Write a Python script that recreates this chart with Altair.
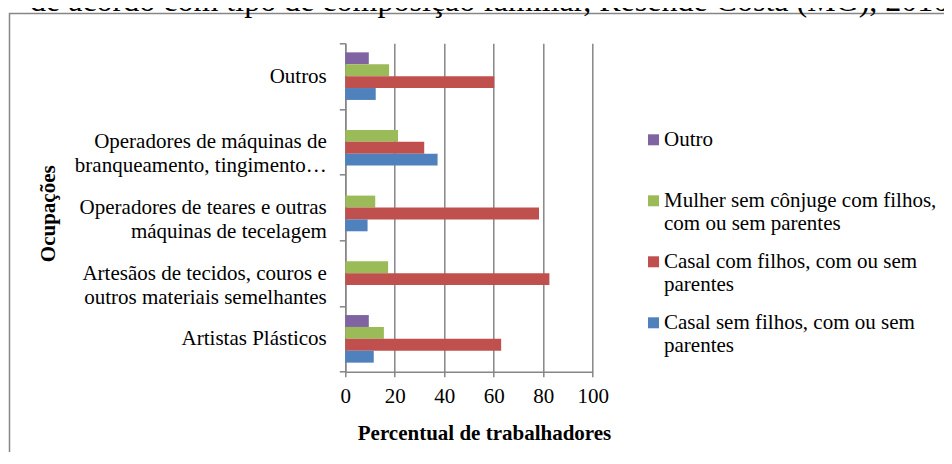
import json
import altair as alt
import pandas as pd

# ---- data ----
categories = [
    "Outros",
    "Operadores de máquinas de branqueamento, tingimento…",
    "Operadores de teares e outras máquinas de tecelagem",
    "Artesãos de tecidos, couros e outros materiais semelhantes",
    "Artistas Plásticos",
]
category_lines = [
    ["Outros"],
    ["Operadores de máquinas de", "branqueamento, tingimento…"],
    ["Operadores de teares e outras", "máquinas de tecelagem"],
    ["Artesãos de tecidos, couros e", "outros materiais semelhantes"],
    ["Artistas Plásticos"],
]
series = [
    "Outro",
    "Mulher sem cônjuge com filhos, com ou sem parentes",
    "Casal com filhos, com ou sem parentes",
    "Casal sem filhos, com ou sem parentes",
]
series_lines = [
    ["Outro"],
    ["Mulher sem cônjuge com filhos,", "com ou sem parentes"],
    ["Casal com filhos, com ou sem", "parentes"],
    ["Casal sem filhos, com ou sem", "parentes"],
]
colors = ["#8064A2", "#9BBB59", "#C0504D", "#4F81BD"]

outro = [9.5, 0, 0, 0, 9.5]
mulher = [17.7, 21.3, 12.1, 17.3, 15.6]
casal_com = [60.2, 31.9, 78.3, 82.5, 63.0]
casal_sem = [12.3, 37.3, 9.0, 0, 11.5]

x_ticks = [0, 20, 40, 60, 80, 100]
title_text = "de acordo com tipo de composição familiar, Resende Costa (MG), 2010"

rows = []
for s, vals in zip(series, [outro, mulher, casal_com, casal_sem]):
    for c, v in zip(categories, vals):
        rows.append({"ocupacao": c, "serie": s, "valor": v})
df = pd.DataFrame(rows)


def lines_expr(names, lines):
    expr = "datum.label"
    for n, ls in reversed(list(zip(names, lines))):
        arr = "[" + ",".join(json.dumps(l, ensure_ascii=False) for l in ls) + "]"
        expr = f"datum.label == {json.dumps(n, ensure_ascii=False)} ? {arr} : ({expr})"
    return expr


FONT = "Liberation Serif"
GRAY = "#868686"

bars = alt.Chart(df).mark_bar().encode(
    x=alt.X(
        "valor:Q",
        scale=alt.Scale(domain=[0, 100], nice=False),
        axis=alt.Axis(
            values=x_ticks,
            title="Percentual de trabalhadores",
            grid=True,
            tickSize=5,
            labelPadding=9,
            labelFlush=False,
            labelOverlap=False,
            titleX=138.7,
            titleY=67.5,
            titleBaseline="alphabetic",
            titleAlign="center",
        ),
    ),
    y=alt.Y(
        "ocupacao:N",
        sort=categories,
        scale=alt.Scale(paddingInner=0, paddingOuter=0),
        axis=alt.Axis(
            title="Ocupações",
            labelExpr=lines_expr(categories, category_lines),
            labelLineHeight=24,
            tickBand="extent",
            tickSize=6,
            labelPadding=13,
            labelLimit=400,
            grid=False,
            titleX=-291.3,
            titleY=170,
            titleAngle=270,
            titleAlign="center",
            titleBaseline="alphabetic",
        ),
    ),
    yOffset=alt.YOffset(
        "serie:N",
        sort=series,
        scale=alt.Scale(paddingInner=0, paddingOuter=0.76),
    ),
    color=alt.Color(
        "serie:N",
        sort=series,
        scale=alt.Scale(domain=series, range=colors),
        legend=alt.Legend(
            title=None,
            orient="none",
            legendX=297.7,
            legendY=86,
            padding=0,
            symbolType="square",
            symbolSize=121,
            symbolStrokeWidth=0,
            labelFont=FONT,
            labelFontSize=21,
            labelColor="black",
            labelLimit=400,
            labelOffset=0,
            labelExpr=lines_expr(series, series_lines),
            gridAlign="all",
            rowPadding=16,
        ),
    ),
)

border = alt.Chart(pd.DataFrame({"k": [0]})).mark_rect(
    fill="transparent", stroke=GRAY, strokeWidth=1.5
).encode(
    x=alt.value(-335.8), x2=alt.value(700), y=alt.value(-29.8), y2=alt.value(500)
)

title = alt.Chart(pd.DataFrame({"k": [0]})).mark_text(
    text=title_text, font=FONT, fontSize=32, align="left", baseline="alphabetic", color="black"
).encode(x=alt.value(-315.3), y=alt.value(-32.5))

chart = alt.layer(border, title, bars).properties(
    width=247.4,
    height=328.4,
    padding={"left": 337.3, "top": 35.3, "right": 351.3, "bottom": 80.3},
    autosize=alt.AutoSizeParams(type="none"),
).configure(font=FONT).configure_view(strokeWidth=0).configure_axis(
    labelFont=FONT,
    labelFontSize=21,
    labelColor="black",
    titleFont=FONT,
    titleFontSize=21,
    titleFontWeight="bold",
    titleColor="black",
    domainColor=GRAY,
    domainWidth=1.5,
    tickColor=GRAY,
    tickWidth=1.5,
    gridColor=GRAY,
    gridWidth=1.5,
    gridOpacity=1,
)

chart.save("out.html", embed_options={"renderer": "svg", "actions": False})
